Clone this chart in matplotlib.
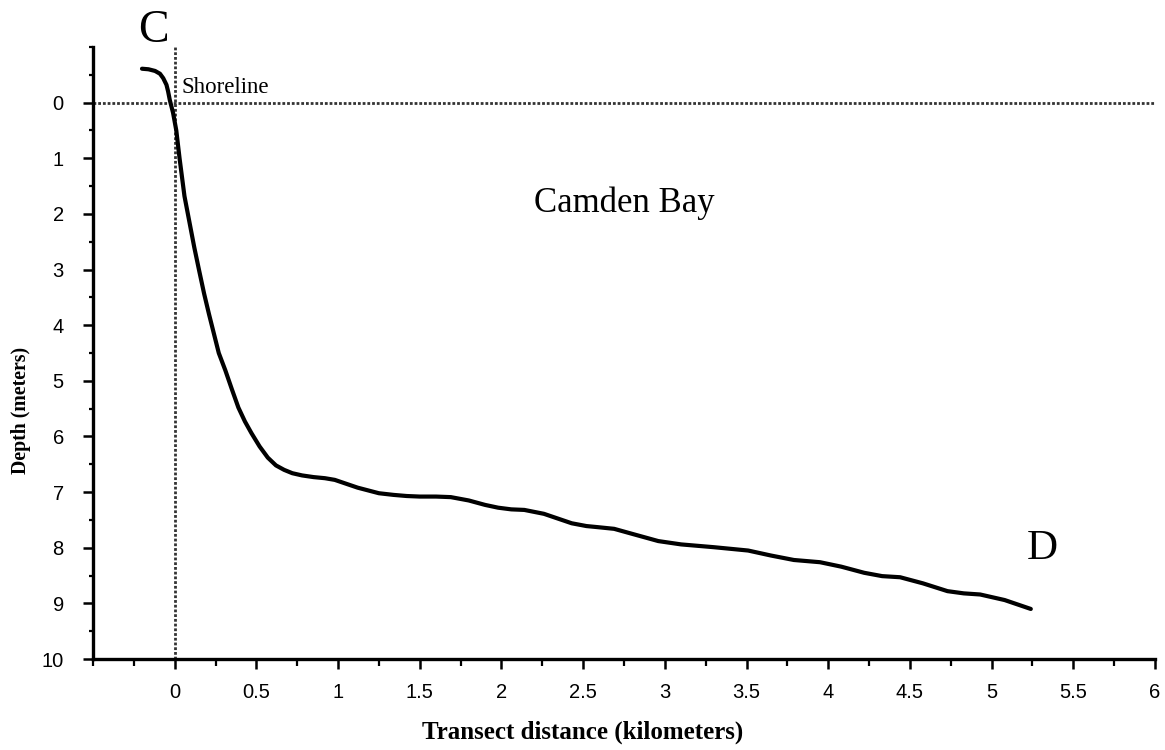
import matplotlib
matplotlib.use("Agg")
import matplotlib.pyplot as plt
from matplotlib.ticker import FixedLocator, NullFormatter

# transect C-D profile (km, m depth; negative = above water)
dist_km = [-0.20, -0.16, -0.12, -0.09, -0.07, -0.05, -0.04, -0.03, -0.01, 0.01, 0.03,
           0.06, 0.09, 0.12, 0.15, 0.18, 0.21, 0.24, 0.27, 0.31, 0.35, 0.39, 0.43,
           0.47, 0.52, 0.57, 0.62, 0.67, 0.72, 0.78, 0.85, 0.92, 0.98, 1.04, 1.12,
           1.25, 1.34, 1.42, 1.50, 1.60, 1.69, 1.80, 1.90, 1.98, 2.06, 2.14, 2.26,
           2.35, 2.43, 2.52, 2.59, 2.69, 2.80, 2.96, 3.10, 3.30, 3.51, 3.65, 3.79,
           3.95, 4.08, 4.22, 4.33, 4.44, 4.58, 4.73, 4.83, 4.93, 5.08, 5.24]
depth_m = [-0.61, -0.60, -0.57, -0.52, -0.44, -0.32, -0.20, -0.05, 0.18, 0.50, 1.00,
           1.68, 2.14, 2.60, 3.02, 3.43, 3.80, 4.15, 4.50, 4.81, 5.15, 5.48, 5.73,
           5.94, 6.18, 6.38, 6.52, 6.60, 6.66, 6.70, 6.73, 6.75, 6.78, 6.84, 6.92,
           7.02, 7.05, 7.07, 7.08, 7.08, 7.09, 7.15, 7.23, 7.28, 7.31, 7.32, 7.39,
           7.48, 7.56, 7.61, 7.63, 7.66, 7.75, 7.88, 7.94, 7.99, 8.05, 8.14, 8.22,
           8.26, 8.34, 8.45, 8.51, 8.53, 8.64, 8.78, 8.82, 8.84, 8.94, 9.10]

x_major = [0, 0.5, 1, 1.5, 2, 2.5, 3, 3.5, 4, 4.5, 5, 5.5, 6]
x_labels = ["0", "0.5", "1", "1.5", "2", "2.5", "3", "3.5", "4", "4.5", "5", "5.5", "6"]
y_major = list(range(0, 11))

serif = "Liberation Serif"
sans = "Liberation Sans"

fig = plt.figure(figsize=(11.65, 7.5), dpi=100)
ax = fig.add_axes([0.0798, 0.1213, 0.9116, 0.816])

ax.plot(dist_km, depth_m, color="black", lw=3.0, solid_capstyle="round",
        solid_joinstyle="round", zorder=3)
ax.axhline(0, color="#333", lw=2.0, ls=(0, (1, 0.7)), zorder=2)
ax.axvline(0, color="#333", lw=2.0, ls=(0, (1, 0.7)), zorder=2)

ax.set_xlim(-0.5, 6)
ax.set_ylim(10, -1)

for s in ("top", "right"):
    ax.spines[s].set_visible(False)
for s in ("left", "bottom"):
    ax.spines[s].set_linewidth(2.4)

ax.xaxis.set_major_locator(FixedLocator(x_major))
ax.set_xticklabels(x_labels)
ax.xaxis.set_minor_locator(FixedLocator([-0.5, -0.25] + [v + 0.25 for v in x_major[:-1]]))
ax.yaxis.set_major_locator(FixedLocator(y_major))
ax.yaxis.set_minor_locator(FixedLocator([-1, -0.5] + [v + 0.5 for v in y_major[:-1]]))
ax.yaxis.set_minor_formatter(NullFormatter())

ax.tick_params(axis="x", which="major", direction="out", length=7, width=1.8, pad=10,
               labelsize=14.5)
ax.tick_params(axis="x", which="minor", direction="out", length=5, width=1.6)
ax.tick_params(axis="y", which="major", direction="out", length=7, width=1.8, pad=14,
               labelsize=14.5)
ax.tick_params(axis="y", which="minor", direction="out", length=3, width=1.6)
for lab in ax.get_xticklabels() + ax.get_yticklabels():
    lab.set_fontfamily(sans)

# axis titles sit where the original put them (centred on the page, not the axes)
fig.text(0.5, 1 - 732 / 750, "Transect distance (kilometers)", fontsize=18,
         fontweight="bold", family=serif, ha="center", va="center")
fig.text(21 / 1165, 1 - 410 / 750, "Depth (meters)", fontsize=14.2, fontweight="bold",
         family=serif, ha="center", va="center", rotation=90)

ax.text(-0.13, -1.29, "C", fontsize=33, family=serif, ha="center", va="center",
        clip_on=False)
ax.text(0.04, -0.28, "Shoreline", fontsize=16.5, family=serif, ha="left", va="center")
ax.text(2.755, 1.81, "Camden Bay", fontsize=25, family=serif, ha="center", va="center")
ax.text(5.31, 8.01, "D", fontsize=31, family=serif, ha="center", va="center")

fig.savefig("out.png", dpi=100)
